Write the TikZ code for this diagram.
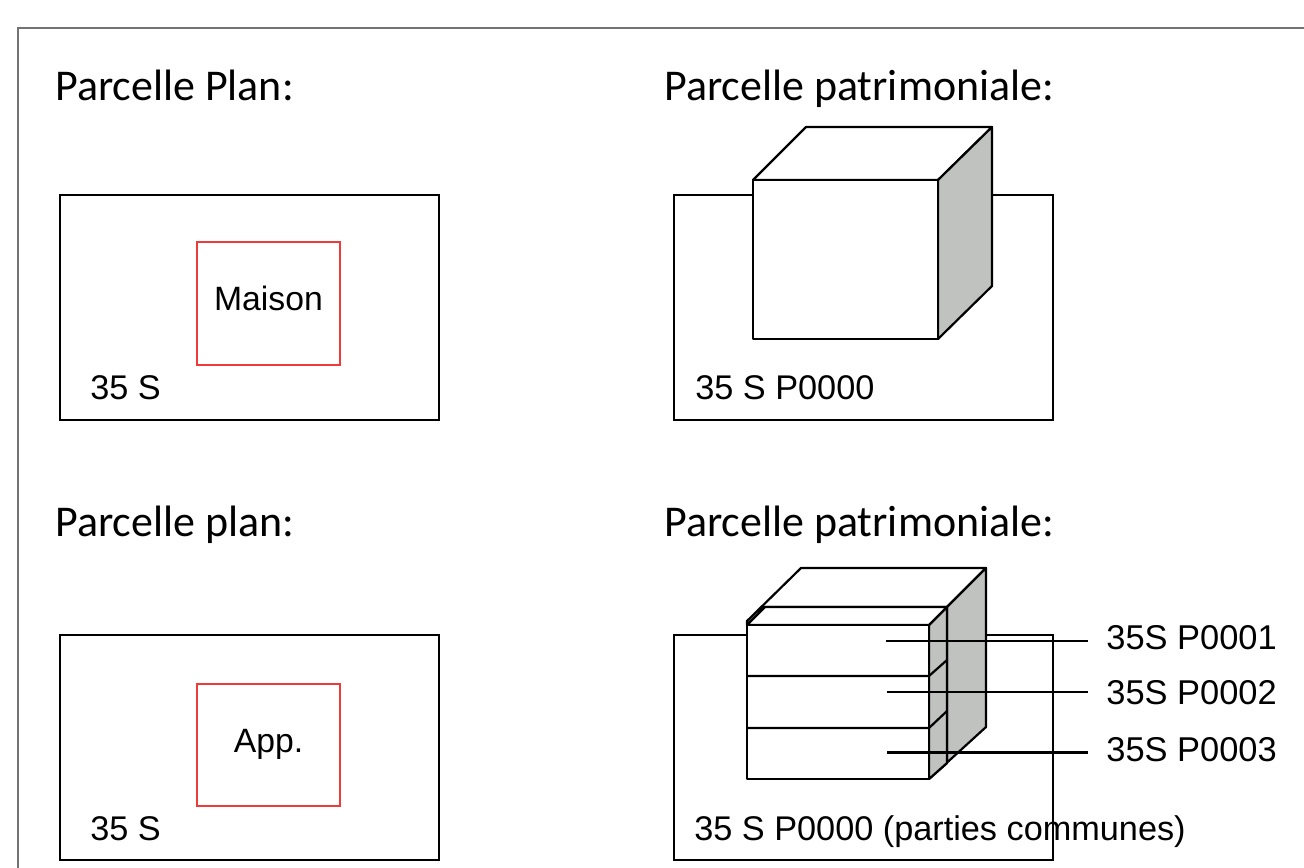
\documentclass[tikz,border=0pt]{standalone}
\usepackage{fontspec}
\setmainfont{Liberation Sans}
\newfontfamily\titlefont{Carlito}
\usepackage{tikz}
\usetikzlibrary{calc}
\definecolor{sidegray}{HTML}{C0C2C0}
\definecolor{housered}{HTML}{EE3A3A}
\tikzset{
  titletext/.style={anchor=base west,inner sep=0pt,font=\titlefont\fontsize{25}{30}\selectfont},
  labeltext/.style={anchor=base west,inner sep=0pt,font=\fontsize{19.5}{23}\selectfont},
  centertext/.style={anchor=base,inner sep=0pt,font=\fontsize{19.2}{23}\selectfont},
  leadertext/.style={anchor=west,inner sep=0pt,inner xsep=0.36cm,font=\fontsize{19.6}{23}\selectfont},
  parcel/.style={draw=black,line width=1.2pt},
  house/.style={draw=housered,line width=1.2pt},
  outline/.style={draw=black,line width=1.25pt,line join=round},
}
\begin{document}
\begin{tikzpicture}[x=0.02cm,y=-0.02cm]
    \useasboundingbox(0,0)rectangle(1304,868);
    \draw[gray!90!black,line width=0.9pt](18,868)--(18,28)--(1304,28);

    \node[titletext](title1)at(55,100.5){Parcelle Plan:};
    \node[titletext](title2)at(664,100.5){Parcelle patrimoniale:};
    \node[titletext](title3)at(55,536.5){Parcelle plan:};
    \node[titletext](title4)at(664,536.5){Parcelle patrimoniale:};

    % left parcels
    \draw[parcel](60,195)rectangle(439,420);
    \draw[house](197,242)rectangle(340,365);
    \node[centertext](maison)at(268.5,310){Maison};
    \node[labeltext](plan1)at(90,399){35 S};

    \draw[parcel](60,635)rectangle(439,860);
    \draw[house](197,684)rectangle(340,806);
    \node[centertext](app)at(268.5,752){App.};
    \node[labeltext](plan2)at(90,840){35 S};

    % house on its parcel
    \draw[parcel](674,195)rectangle(1053,420);
    \draw[outline,fill=white](753,180)--(806,127)--(992,127)--(938,180)--cycle;
    \draw[outline,fill=sidegray](938,180)--(992,127)--(992,286)--(938,339)--cycle;
    \draw[outline,fill=white](753,180)rectangle(938,339);
    \node[labeltext](patri1)at(695,399){35 S P0000};

    % block of flats
    \draw[parcel](674,635)rectangle(1053,860);
    \draw[outline,fill=white](747,621)--(801,568)--(986,568)--(947,607)--(765,607)--(747,625)--cycle;
    \draw[outline,fill=sidegray](947,607)--(986,568)--(986,727)--(929,779)--(947,763)--cycle;
    \draw[outline,fill=sidegray](929,625)--(947,607)--(947,763)--(929,779)--cycle;
    \draw[outline,fill=white](747,625)--(765,607)--(947,607)--(929,625)--cycle;
    \draw[outline,fill=white](747,625)rectangle(929,779);
    \foreach \y/\yb in {676/660,728/711}{
      \draw[outline](747,\y)--(929,\y)--(947,\yb);
    }
    \node[labeltext](patri2)at(694,840){35 S P0000 (parties communes)};

    % leaders
    \foreach \i/\x/\y/\yt in {1/886/641/638,2/887/692/692.5,3/887/752.5/750}{
      \coordinate(lot\i)at(\x,\y);
      \node[leadertext](name\i)at(1088,\yt){35S P000\i};
      \draw[outline](lot\i)--(lot\i-|name\i.west);
    }
  \end{tikzpicture}
\end{document}
